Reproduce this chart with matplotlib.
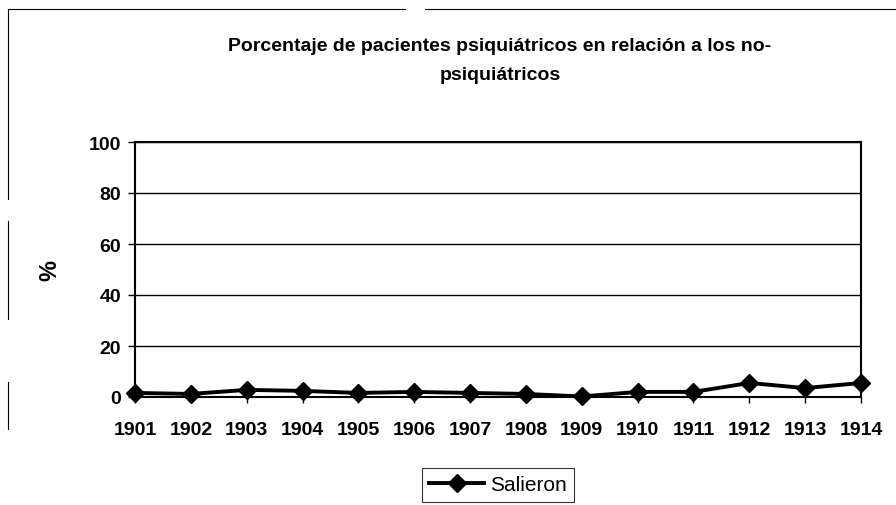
import matplotlib
matplotlib.use("Agg")
import matplotlib.pyplot as plt
from matplotlib.lines import Line2D

years = [1901, 1902, 1903, 1904, 1905, 1906, 1907, 1908, 1909, 1910, 1911, 1912, 1913, 1914]
salieron = [1.6, 1.2, 2.8, 2.4, 1.6, 2.0, 1.6, 1.2, 0.2, 2.0, 2.0, 5.5, 3.5, 5.5]
yticks = [0, 20, 40, 60, 80, 100]
title = "Porcentaje de pacientes psiquiátricos en relación a los no-\npsiquiátricos"

plt.rcParams['font.family'] = ['Liberation Sans', 'DejaVu Sans']

fig = plt.figure(figsize=(8.96, 5.06), dpi=100)
W, H = 896, 506
ax = fig.add_axes([135 / W, 1 - 398 / H, (861 - 135) / W, (398 - 143) / H])

x = list(range(len(years)))
ax.plot(x, salieron, color='black', lw=2.8, marker='D', markersize=9,
        label='Salieron', clip_on=False, zorder=5)

ax.set_xlim(0, len(years) - 1)
ax.set_ylim(0, 100)
ax.set_yticks(yticks)
ax.set_yticklabels([str(v) for v in yticks], fontsize=14, fontweight='bold')
ax.set_xticks(x)
ax.set_xticklabels([str(y) for y in years], fontsize=14, fontweight='bold')
ax.yaxis.grid(True, color='black', lw=1)
ax.set_axisbelow(True)
ax.tick_params(axis='y', length=5, width=1, pad=5, color='black')
ax.tick_params(axis='x', length=4, width=1, pad=13, color='black')
for s in ax.spines.values():
    s.set_color('black')
    s.set_linewidth(1.5)

ax.set_ylabel('%', fontsize=17, fontweight='bold', labelpad=20)

fig.text(500 / W, 1 - 61 / H, title, ha='center', va='center', fontsize=14,
         fontweight='bold', linespacing=1.85)

leg = ax.legend(loc='center', bbox_to_anchor=(498 / W, 1 - 486 / H),
                bbox_transform=fig.transFigure, frameon=True, fancybox=False,
                fontsize=15, handlelength=2.6, borderpad=0.35, handletextpad=0.3,
                borderaxespad=0)
leg.get_frame().set_edgecolor('black')
leg.get_frame().set_linewidth(0.8)

# partial scanned outer frame
segs = [((8, 10), (405, 10)), ((425, 10), (896, 10)),
        ((8, 10), (8, 200)), ((8, 222), (8, 320)), ((8, 383), (8, 430))]
for (x0, y0), (x1, y1) in segs:
    fig.add_artist(Line2D([x0 / W, x1 / W], [1 - y0 / H, 1 - y1 / H],
                          transform=fig.transFigure, color='black', lw=0.8))

fig.savefig('out.png', dpi=100)
